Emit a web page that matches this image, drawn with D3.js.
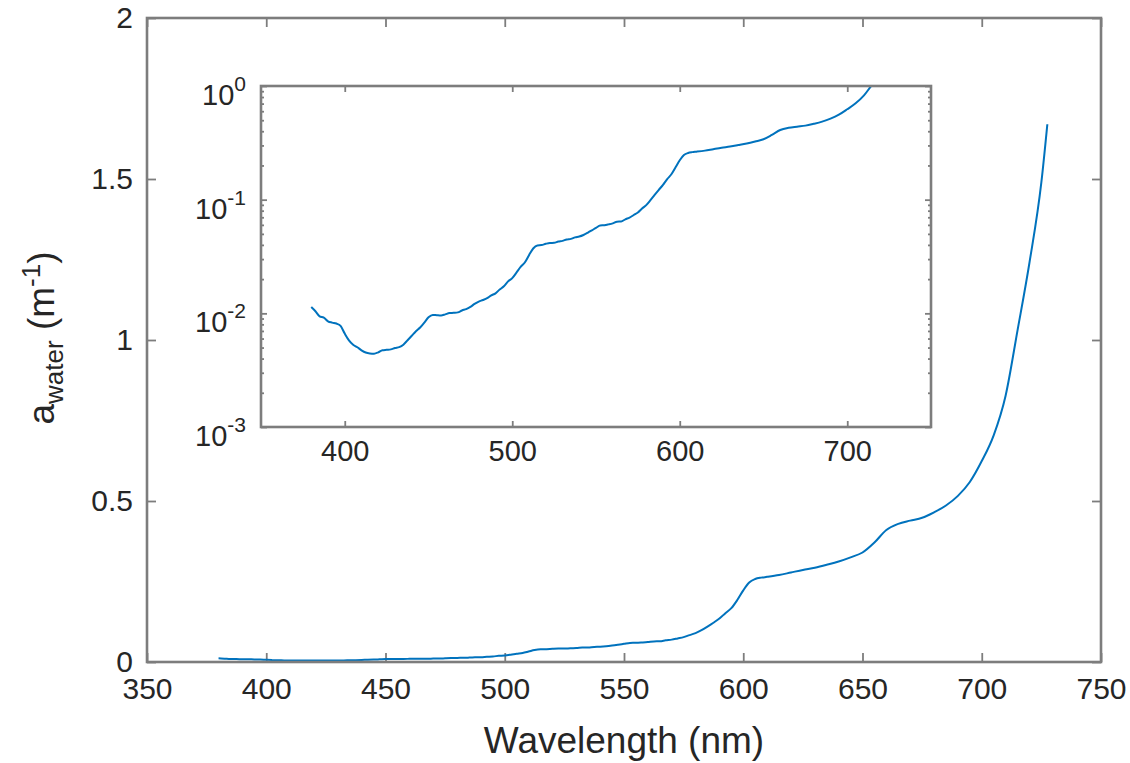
<!DOCTYPE html>
<html>
<head>
<meta charset="utf-8">
<script src="https://cdn.jsdelivr.net/npm/d3@7"></script>
<style>
  body { margin: 0; background: #fff; }
  text { font-family: 'Liberation Sans', Arial, Helvetica, sans-serif; fill: #262626; }
</style>
</head>
<body>
<script>
// wavelength (nm) and pure water absorption (m^-1)
var wavelength = [
  380, 382.5, 385, 387.5, 390, 392.5, 395, 397.5, 400, 402.5, 405, 407.5, 410, 412.5, 415, 417.5,
  420, 422.5, 425, 427.5, 430, 432.5, 435, 437.5, 440, 442.5, 445, 447.5, 450, 452.5, 455, 457.5,
  460, 462.5, 465, 467.5, 470, 472.5, 475, 477.5, 480, 482.5, 485, 487.5, 490, 492.5, 495, 497.5,
  500, 502.5, 505, 507.5, 510, 512.5, 515, 517.5, 520, 522.5, 525, 527.5, 530, 532.5, 535, 537.5,
  540, 542.5, 545, 547.5, 550, 552.5, 555, 557.5, 560, 562.5, 565, 567.5, 570, 572.5, 575, 577.5,
  580, 582.5, 585, 587.5, 590, 592.5, 595, 597.5, 600, 602.5, 605, 607.5, 610, 615, 620, 625,
  630, 635, 640, 645, 650, 655, 660, 665, 670, 675, 680, 685, 690, 695, 700, 705,
  710, 715, 720, 725, 727.5
]
var absorption = [
  0.01137, 0.01044, 0.00941, 0.00917, 0.00851, 0.00829, 0.00813, 0.00775, 0.00663, 0.00579, 0.00530, 0.00503, 0.00473, 0.00452, 0.00444, 0.00442,
  0.00454, 0.00474, 0.00478, 0.00482, 0.00495, 0.00504, 0.00530, 0.00580, 0.00635, 0.00696, 0.00751, 0.00830, 0.00922, 0.00969, 0.00962, 0.00957,
  0.00979, 0.01005, 0.01011, 0.0102, 0.0106, 0.0109, 0.0114, 0.0121, 0.0127, 0.0131, 0.0136, 0.0144, 0.0150, 0.0162, 0.0173, 0.0191,
  0.0204, 0.0228, 0.0256, 0.0280, 0.0325, 0.0372, 0.0396, 0.0399, 0.0409, 0.0416, 0.0417, 0.0428, 0.0434, 0.0447, 0.0452, 0.0466,
  0.0474, 0.0489, 0.0511, 0.0537, 0.0565, 0.0593, 0.0596, 0.0606, 0.0619, 0.0640, 0.0642, 0.0672, 0.0695, 0.0733, 0.0772, 0.0836,
  0.0896, 0.0989, 0.1100, 0.1220, 0.1351, 0.1516, 0.1672, 0.1925, 0.2224, 0.2470, 0.2577, 0.2620, 0.2644, 0.2700, 0.2780, 0.2860,
  0.2930, 0.3020, 0.3120, 0.3250, 0.3400, 0.3710, 0.4100, 0.4290, 0.4390, 0.4480, 0.4650, 0.4860, 0.5160, 0.5590, 0.6240, 0.7040,
  0.8270, 1.0300, 1.2400, 1.4900, 1.6700
]

var mainXTicks = [350, 400, 450, 500, 550, 600, 650, 700, 750]
var mainYTicks = [0, 0.5, 1, 1.5, 2]
var mainYLabels = ['0', '0.5', '1', '1.5', '2']
var insetXTicks = [400, 500, 600, 700]
var insetYTicks = [1e-3, 1e-2, 1e-1, 1]
var insetYExponents = ['-3', '-2', '-1', '0']

var dataset = wavelength.map(function (w, i) { return { w: w, a: absorption[i] } })

var width = 1130
var height = 763
var axisColor = '#7d7d7d'
var lineColor = '#0072BD'

var svg = d3.select('body').append('svg')
  .attr('width', width)
  .attr('height', height)

// main axes
var main = { left: 147, right: 1101, top: 18, bottom: 662 }
var x = d3.scaleLinear().domain([350, 750]).range([main.left, main.right])
var y = d3.scaleLinear().domain([0, 2]).range([main.bottom, main.top])

// inset axes
var ins = { left: 261, right: 931, top: 86, bottom: 427 }
var xi = d3.scaleLinear().domain([350, 750]).range([ins.left, ins.right])
var yi = d3.scaleLog().domain([1e-3, 1]).range([ins.bottom, ins.top])

function styleAxis (g, size) {
  g.select('.domain').remove()
  g.selectAll('.tick line').attr('stroke', axisColor).attr('stroke-width', 1.8)
  g.selectAll('.tick text').attr('fill', '#262626').style('font-size', size + 'px')
}

// main ticks on all four sides
svg.append('g')
  .attr('transform', 'translate(0,' + main.bottom + ')')
  .call(d3.axisBottom(x).tickValues(mainXTicks).tickSize(-9).tickPadding(16).tickFormat(d3.format('d')))
  .call(styleAxis, 30)
svg.append('g')
  .attr('transform', 'translate(0,' + main.top + ')')
  .call(d3.axisTop(x).tickValues(mainXTicks).tickSize(-9).tickFormat(''))
  .call(styleAxis, 30)
svg.append('g')
  .attr('transform', 'translate(' + main.left + ',0)')
  .call(d3.axisLeft(y).tickValues(mainYTicks).tickSize(-9).tickPadding(14)
    .tickFormat(function (d, i) { return mainYLabels[i] }))
  .call(styleAxis, 30)
svg.append('g')
  .attr('transform', 'translate(' + main.right + ',0)')
  .call(d3.axisRight(y).tickValues(mainYTicks).tickSize(-9).tickFormat(''))
  .call(styleAxis, 30)

var valueline = d3.line()
  .curve(d3.curveMonotoneX)
  .x(function (d) { return x(d.w) })
  .y(function (d) { return y(d.a) })

svg.append('path')
  .datum(dataset)
  .attr('fill', 'none')
  .attr('stroke', lineColor)
  .attr('stroke-width', 2)
  .attr('d', valueline)

svg.append('rect')
  .attr('x', main.left).attr('y', main.top)
  .attr('width', main.right - main.left).attr('height', main.bottom - main.top)
  .attr('fill', 'none').attr('stroke', axisColor).attr('stroke-width', 2.6)

// axis labels
svg.append('text')
  .attr('x', (main.left + main.right) / 2)
  .attr('y', 753)
  .attr('text-anchor', 'middle')
  .style('font-size', '37px')
  .text('Wavelength (nm)')

var ylab = svg.append('text')
  .attr('transform', 'translate(54,338) rotate(-90)')
  .attr('text-anchor', 'middle')
  .style('font-size', '37px')
ylab.append('tspan').text('a')
ylab.append('tspan').attr('dy', 9).style('font-size', '26px').text('water')
ylab.append('tspan').attr('dy', -9).text(' (m')
ylab.append('tspan').attr('dy', -14).style('font-size', '26px').text('-1')
ylab.append('tspan').attr('dy', 14).text(')')

// inset
svg.append('defs').append('clipPath').attr('id', 'insetClip')
  .append('rect')
  .attr('x', ins.left).attr('y', ins.top)
  .attr('width', ins.right - ins.left).attr('height', ins.bottom - ins.top)

svg.append('rect')
  .attr('x', ins.left).attr('y', ins.top)
  .attr('width', ins.right - ins.left).attr('height', ins.bottom - ins.top)
  .attr('fill', '#fff')

var insetline = d3.line()
  .curve(d3.curveMonotoneX)
  .x(function (d) { return xi(d.w) })
  .y(function (d) { return yi(d.a) })

svg.append('path')
  .datum(dataset)
  .attr('clip-path', 'url(#insetClip)')
  .attr('fill', 'none')
  .attr('stroke', lineColor)
  .attr('stroke-width', 2)
  .attr('d', insetline)

svg.append('g')
  .attr('transform', 'translate(0,' + ins.bottom + ')')
  .call(d3.axisBottom(xi).tickValues(insetXTicks).tickSize(-6).tickPadding(13).tickFormat(d3.format('d')))
  .call(styleAxis, 29)
svg.append('g')
  .attr('transform', 'translate(0,' + ins.top + ')')
  .call(d3.axisTop(xi).tickValues(insetXTicks).tickSize(-6).tickFormat(''))
  .call(styleAxis, 29)

// log minor ticks and decades on both sides
var minorTicks = yi.ticks().filter(function (v) { return insetYTicks.indexOf(v) < 0 })
;[ins.left, ins.right].forEach(function (pos, k) {
  svg.append('g')
    .attr('transform', 'translate(' + pos + ',0)')
    .call((k === 0 ? d3.axisLeft(yi) : d3.axisRight(yi)).tickValues(minorTicks).tickSize(-3).tickFormat(''))
    .call(styleAxis, 28)
  svg.append('g')
    .attr('transform', 'translate(' + pos + ',0)')
    .call((k === 0 ? d3.axisLeft(yi) : d3.axisRight(yi)).tickValues(insetYTicks).tickSize(-6).tickFormat(''))
    .call(styleAxis, 28)
})

// 10^n labels
var ylabels = svg.append('g')
ylabels.selectAll('text')
  .data(insetYTicks)
  .enter().append('text')
  .attr('x', ins.left - 15)
  .attr('y', function (d) { return yi(d) + 19 })
  .attr('text-anchor', 'end')
  .style('font-size', '29px')
  .each(function (d, i) {
    var t = d3.select(this)
    t.append('tspan').text('10')
    t.append('tspan').attr('dy', -14).style('font-size', '21px').text(insetYExponents[i])
  })

svg.append('rect')
  .attr('x', ins.left).attr('y', ins.top)
  .attr('width', ins.right - ins.left).attr('height', ins.bottom - ins.top)
  .attr('fill', 'none').attr('stroke', axisColor).attr('stroke-width', 2.6)
</script>
</body>
</html>
